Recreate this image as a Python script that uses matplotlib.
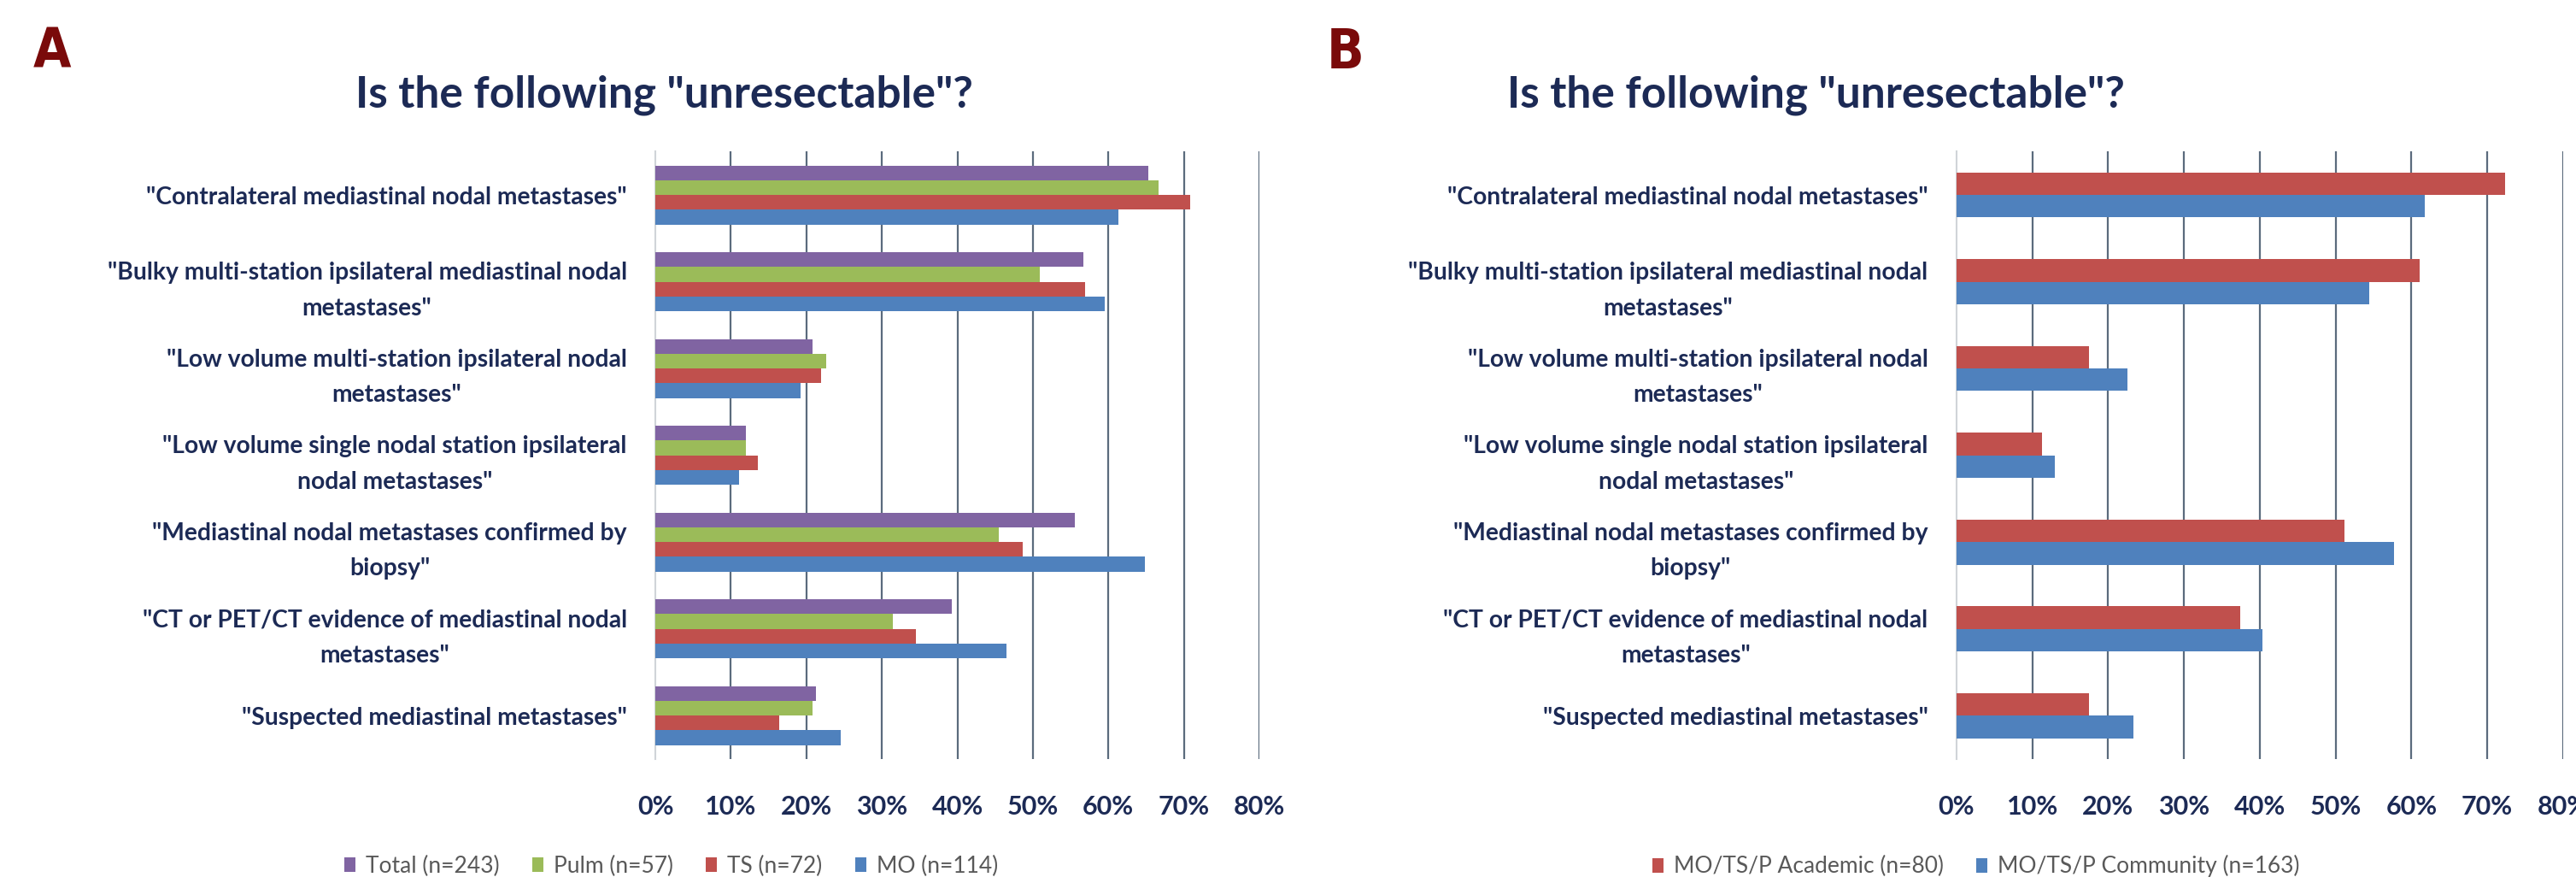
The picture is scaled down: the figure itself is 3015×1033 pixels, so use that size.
import matplotlib
matplotlib.use("Agg")
import matplotlib.pyplot as plt
from matplotlib.patches import Patch
import numpy as np

plt.rcParams['font.family'] = ['Lato', 'DejaVu Sans']

categories = [
    '"Contralateral mediastinal nodal metastases"',
    '"Bulky multi-station ipsilateral mediastinal nodal\nmetastases"',
    '"Low volume multi-station ipsilateral nodal\nmetastases"',
    '"Low volume single nodal station ipsilateral\nnodal metastases"',
    '"Mediastinal nodal metastases confirmed by\nbiopsy"',
    '"CT or PET/CT evidence of mediastinal nodal\nmetastases"',
    '"Suspected mediastinal metastases"',
]

# Panel A (percent)
total_vals = [65.3, 56.7, 20.8, 12.0, 55.6, 39.3, 21.3]
pulm_vals = [66.7, 50.9, 22.6, 12.0, 45.5, 31.4, 20.8]
ts_vals = [70.8, 56.9, 22.0, 13.6, 48.6, 34.5, 16.4]
mo_vals = [61.3, 59.5, 19.2, 11.1, 64.8, 46.5, 24.5]
series_a_names = ["Total (n=243)", "Pulm (n=57)", "TS (n=72)", "MO (n=114)"]

# Panel B (percent)
academic_vals = [72.4, 61.1, 17.5, 11.3, 51.2, 37.4, 17.5]
community_vals = [61.8, 54.4, 22.6, 13.0, 57.7, 40.3, 23.3]
series_b_names = ["MO/TS/P Academic (n=80)", "MO/TS/P Community (n=163)"]

xticks = [0, 10, 20, 30, 40, 50, 60, 70, 80]
xticklabels = ["0%", "10%", "20%", "30%", "40%", "50%", "60%", "70%", "80%"]
title = 'Is the following "unresectable"?'

PURPLE = "#8064A2"
GREEN = "#9BBB59"
RED = "#C0504D"
BLUE = "#4F81BD"
NAVY = "#1c2a55"
GRID = "#5b6b7d"

fig = plt.figure(figsize=(30.15, 10.33), dpi=100)


def style_axes(ax):
    ax.set_xlim(0, 80)
    ax.set_ylim(len(categories) - 0.5, -0.5)
    ax.set_xticks(xticks)
    ax.set_xticklabels(xticklabels, fontsize=22, fontweight='bold', color=NAVY)
    ax.set_yticks(np.arange(len(categories)))
    ax.set_yticklabels(categories, fontsize=20.3, fontweight='bold', color=NAVY,
                       multialignment='center', linespacing=1.75)
    ax.tick_params(axis='both', length=0)
    ax.tick_params(axis='x', pad=30)
    ax.tick_params(axis='y', pad=24)
    for s in ['top', 'right', 'bottom']:
        ax.spines[s].set_visible(False)
    ax.spines['left'].set_color('#d0d4d8')
    ax.spines['left'].set_linewidth(1.5)
    ax.set_axisbelow(True)
    ax.xaxis.grid(True, color=GRID, linewidth=1.6)
    ax.xaxis.get_gridlines()[0].set_visible(False)


legend_kw = dict(frameon=False, fontsize=19, handlelength=0.5, handleheight=0.6,
                 handletextpad=0.45, columnspacing=1.45, labelcolor='#595959',
                 borderaxespad=0, borderpad=0)

# ---------------- Panel A ----------------
axA = fig.add_axes([0.2544, 0.1404, 0.2345, 0.688])
y = np.arange(len(categories))
h = 0.17
series_a = [total_vals, pulm_vals, ts_vals, mo_vals]
colors_a = [PURPLE, GREEN, RED, BLUE]
for i, (vals, col) in enumerate(zip(series_a, colors_a)):
    axA.barh(y + (i - 1.5) * h, vals, height=h, color=col, zorder=3)
style_axes(axA)

fig.text(0.258, 0.892, title, ha='center', va='center', fontsize=37,
         fontweight='bold', color=NAVY)
fig.text(0.013, 0.94, "A", ha='left', va='center', fontsize=46,
         fontweight='bold', color="#7a0a0a", family='DejaVu Sans',
         fontstretch='condensed')

handles_a = [Patch(facecolor=c, edgecolor='none') for c in colors_a]
fig.legend(handles_a, series_a_names, loc='center', bbox_to_anchor=(0.2605, 0.019),
           ncol=4, **legend_kw)

# ---------------- Panel B ----------------
axB = fig.add_axes([0.7595, 0.1404, 0.2355, 0.688])
hb = 0.26
series_b = [academic_vals, community_vals]
colors_b = [RED, BLUE]
for i, (vals, col) in enumerate(zip(series_b, colors_b)):
    axB.barh(y + (i - 0.5) * hb, vals, height=hb, color=col, zorder=3)
style_axes(axB)

fig.text(0.705, 0.892, title, ha='center', va='center', fontsize=37,
         fontweight='bold', color=NAVY)
fig.text(0.515, 0.94, "B", ha='left', va='center', fontsize=46,
         fontweight='bold', color="#7a0a0a", family='DejaVu Sans',
         fontstretch='condensed')

handles_b = [Patch(facecolor=c, edgecolor='none') for c in colors_b]
fig.legend(handles_b, series_b_names, loc='center', bbox_to_anchor=(0.767, 0.019),
           ncol=2, **legend_kw)

fig.savefig("out.png", dpi=100, facecolor='white')
